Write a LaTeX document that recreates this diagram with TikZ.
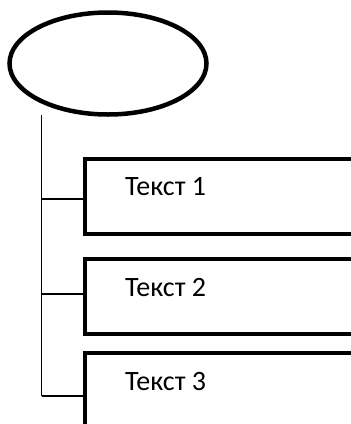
\documentclass[tikz,border=0pt]{standalone}
\usepackage{fontspec}
\setmainfont{Carlito}
\usetikzlibrary{shapes.geometric}
\begin{document}
\begin{tikzpicture}[x=1pt,y=-1pt,
  oval/.style={ellipse,draw,line width=4.5pt,minimum width=197pt,minimum height=102pt,inner sep=0pt},
  itembox/.style={rectangle,draw,line width=4.5pt,minimum width=320pt,minimum height=75pt,inner sep=0pt,anchor=north west},
  itemtext/.style={font=\fontsize{28}{31}\selectfont,anchor=base west,inner sep=0pt},
  conn/.style={line width=1.1pt}]
\useasboundingbox (0,0) rectangle (351,424);
\clip (0,0) rectangle (351,424);
\node[oval] (top) at (108,63.5) {};
\node[itembox] (b1) at (82.5,156.5) {};
\node[itembox] (b2) at (82.5,256.5) {};
\node[itembox] (b3) at (82.5,350.5) {};
\node[itemtext] (t1) at (125,195) {Текст 1};
\node[itemtext] (t2) at (125,296) {Текст 2};
\node[itemtext] (t3) at (125,390) {Текст 3};
\coordinate (s) at (41.5,115);
\coordinate (j1) at (41.5,199);
\coordinate (j2) at (41.5,294);
\coordinate (j3) at (41.5,396);
\draw[conn] (s) -- (j3);
\draw[conn] (j1) -- (j1 -| b1.west);
\draw[conn] (j2) -- (j2 -| b2.west);
\draw[conn] (j3) -- (j3 -| b3.west);
\end{tikzpicture}
\end{document}
